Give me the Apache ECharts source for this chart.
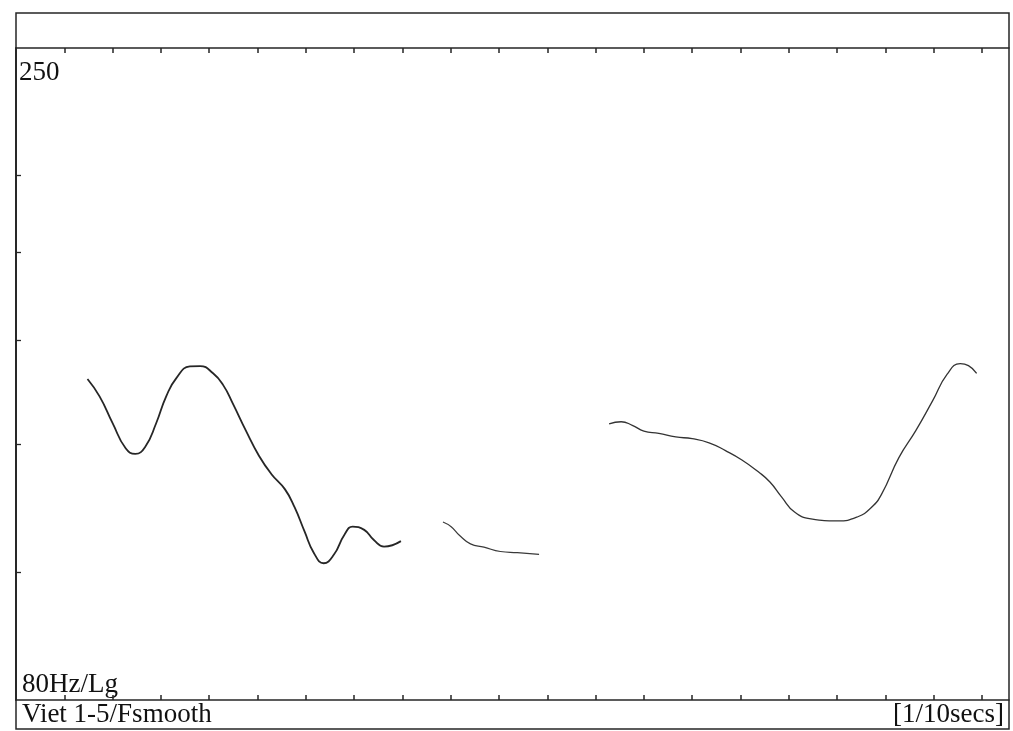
<!DOCTYPE html>
<html>
<head>
<meta charset="utf-8">
<title>Viet 1-5 / Fsmooth</title>
<script src="https://cdn.jsdelivr.net/npm/echarts@6/dist/echarts.min.js"></script>
<style>
  html, body { margin: 0; padding: 0; background: #fff; }
  #chart { width: 1013px; height: 731px; }
</style>
</head>
<body>
<div id="chart"></div>
<script>
// Time in tenths of a second, F0 in Hz (smoothed pitch track, three voiced stretches)
const seg1Time = [1.48, 1.73, 2.00, 2.27, 2.47, 2.68, 2.90, 3.11, 3.32, 3.60, 3.81, 4.08, 4.29, 4.49, 4.76, 5.03, 5.29, 5.57, 5.77, 5.97, 6.17, 6.37, 6.58, 6.80, 6.97, 7.21, 7.41, 7.62, 7.97];
const seg1Hz   = [140.2, 136.0, 129.8, 124.2, 123.0, 124.6, 129.7, 136.0, 140.4, 143.3, 143.4, 141.6, 138.7, 134.3, 128.1, 122.6, 118.7, 115.6, 112.0, 107.5, 103.4, 101.6, 103.1, 106.8, 108.3, 107.7, 105.8, 104.6, 105.6];

const seg2Time = [8.84, 9.01, 9.18, 9.41, 9.69, 10.03, 10.38, 10.83];
const seg2Hz   = [109.2, 108.3, 106.7, 105.1, 104.5, 103.7, 103.5, 103.2];

const seg3Time = [12.28, 12.53, 12.76, 13.00, 13.31, 13.66, 14.00, 14.35, 14.69, 15.03, 15.37, 15.61, 15.85, 16.12, 16.46, 17.01, 17.43, 17.71, 17.92, 18.28, 18.63, 18.98, 19.28, 19.55, 19.72, 19.89];
const seg3Hz   = [129.6, 130.1, 129.3, 128.0, 127.5, 126.7, 126.3, 125.4, 123.7, 121.7, 119.2, 117.1, 114.1, 111.1, 109.8, 109.4, 110.2, 112.0, 114.6, 122.2, 128.1, 135.0, 141.4, 144.0, 143.5, 141.6];

// Axis ranges, tick positions and captions
const timeTicks = [1, 2, 3, 4, 5, 6, 7, 8, 9, 10, 11, 12, 13, 14, 15, 16, 17, 18, 19, 20];
const hzTicks = [100, 125, 150, 175, 200];
const hzMin = 80, hzMax = 250;
const timeMin = 0, timeMax = 20.56;
const topLabel = '250';
const bottomLabel = '80Hz/Lg';
const titleText = 'Viet 1-5/Fsmooth';
const unitText = '[1/10secs]';

const pair = (xs, ys) => xs.map((x, i) => [x, ys[i]]);

const ink = '#262626';
const font = '"Liberation Serif", "DejaVu Serif", serif';

const chart = echarts.init(document.getElementById('chart'), null, { renderer: 'canvas' });

const baseX = {
  type: 'value', min: timeMin, max: timeMax,
  axisLine: { show: true, lineStyle: { color: ink, width: 1.5 } },
  axisTick: { show: true, inside: true, length: 5, customValues: timeTicks, lineStyle: { color: ink, width: 1.5 } },
  axisLabel: { show: false },
  splitLine: { show: false }
};
const baseY = {
  type: 'log', logBase: 10, min: hzMin, max: hzMax,
  axisLine: { show: true, lineStyle: { color: ink, width: 1.5 } },
  axisLabel: { show: false },
  splitLine: { show: false }
};

chart.setOption({
  animation: false,
  backgroundColor: '#ffffff',
  grid: { left: 16, right: 4, top: 48, bottom: 31 },
  xAxis: [
    Object.assign({}, baseX, { position: 'bottom' }),
    Object.assign({}, baseX, { position: 'top' })
  ],
  yAxis: [
    Object.assign({}, baseY, {
      position: 'left',
      axisTick: { show: true, inside: true, length: 5, customValues: hzTicks, lineStyle: { color: ink, width: 1.3 } }
    }),
    Object.assign({}, baseY, { position: 'right', axisTick: { show: false } })
  ],
  series: [
    { type: 'line', data: pair(seg1Time, seg1Hz), smooth: 0.5, showSymbol: false,
      lineStyle: { color: ink, width: 1.8 } },
    { type: 'line', data: pair(seg2Time, seg2Hz), smooth: 0.5, showSymbol: false,
      lineStyle: { color: '#3a3a3a', width: 1.2 } },
    { type: 'line', data: pair(seg3Time, seg3Hz), smooth: 0.5, showSymbol: false,
      lineStyle: { color: '#333333', width: 1.3 } }
  ],
  graphic: [
    // outer frame around the header strip and caption row
    { type: 'rect', silent: true, shape: { x: 16, y: 13, width: 993, height: 716 },
      style: { fill: null, stroke: ink, lineWidth: 1.5 } },
    { type: 'text', silent: true, left: 19, top: 59,
      style: { text: topLabel, font: '27px ' + font, fill: '#111' } },
    { type: 'text', silent: true, left: 22, top: 671,
      style: { text: bottomLabel, font: '27px ' + font, fill: '#111' } },
    { type: 'text', silent: true, left: 22, top: 701,
      style: { text: titleText, font: '27px ' + font, fill: '#111' } },
    { type: 'text', silent: true, right: 9, top: 701,
      style: { text: unitText, font: '27px ' + font, fill: '#111' } }
  ]
});
</script>
</body>
</html>
